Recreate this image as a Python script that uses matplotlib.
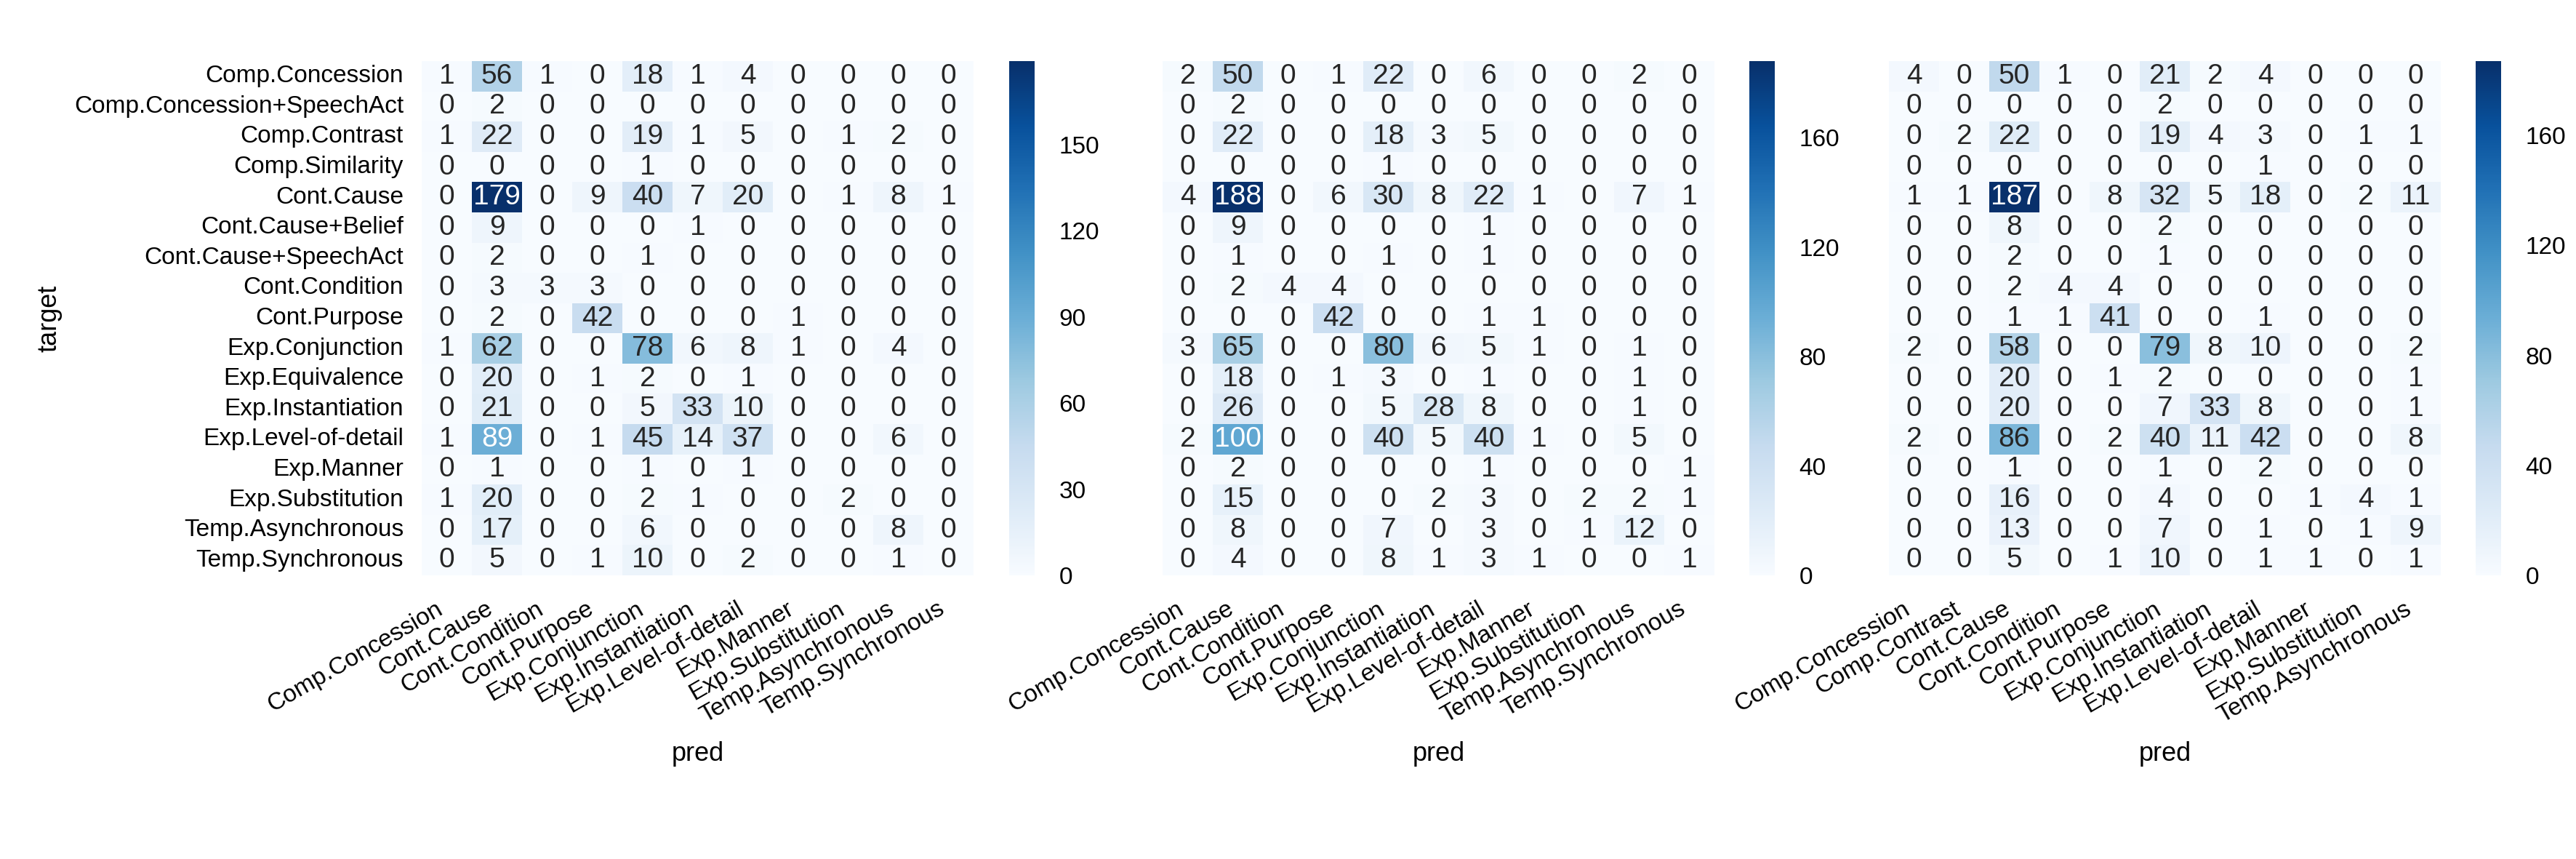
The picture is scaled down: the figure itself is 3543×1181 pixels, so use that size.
import numpy as np
import matplotlib
matplotlib.use("Agg")
import matplotlib.pyplot as plt
import matplotlib.ticker as mticker
import seaborn as sns

# labels
target_labels = [
    "Comp.Concession", "Comp.Concession+SpeechAct", "Comp.Contrast", "Comp.Similarity",
    "Cont.Cause", "Cont.Cause+Belief", "Cont.Cause+SpeechAct", "Cont.Condition",
    "Cont.Purpose", "Exp.Conjunction", "Exp.Equivalence", "Exp.Instantiation",
    "Exp.Level-of-detail", "Exp.Manner", "Exp.Substitution", "Temp.Asynchronous",
    "Temp.Synchronous",
]
pred_labels_a = [
    "Comp.Concession", "Cont.Cause", "Cont.Condition", "Cont.Purpose", "Exp.Conjunction",
    "Exp.Instantiation", "Exp.Level-of-detail", "Exp.Manner", "Exp.Substitution",
    "Temp.Asynchronous", "Temp.Synchronous",
]
pred_labels_b = pred_labels_a
pred_labels_c = [
    "Comp.Concession", "Comp.Contrast", "Cont.Cause", "Cont.Condition", "Cont.Purpose",
    "Exp.Conjunction", "Exp.Instantiation", "Exp.Level-of-detail", "Exp.Manner",
    "Exp.Substitution", "Temp.Asynchronous",
]

# confusion matrices (rows = target, cols = pred)
counts_a = [
    [1, 56, 1, 0, 18, 1, 4, 0, 0, 0, 0],
    [0, 2, 0, 0, 0, 0, 0, 0, 0, 0, 0],
    [1, 22, 0, 0, 19, 1, 5, 0, 1, 2, 0],
    [0, 0, 0, 0, 1, 0, 0, 0, 0, 0, 0],
    [0, 179, 0, 9, 40, 7, 20, 0, 1, 8, 1],
    [0, 9, 0, 0, 0, 1, 0, 0, 0, 0, 0],
    [0, 2, 0, 0, 1, 0, 0, 0, 0, 0, 0],
    [0, 3, 3, 3, 0, 0, 0, 0, 0, 0, 0],
    [0, 2, 0, 42, 0, 0, 0, 1, 0, 0, 0],
    [1, 62, 0, 0, 78, 6, 8, 1, 0, 4, 0],
    [0, 20, 0, 1, 2, 0, 1, 0, 0, 0, 0],
    [0, 21, 0, 0, 5, 33, 10, 0, 0, 0, 0],
    [1, 89, 0, 1, 45, 14, 37, 0, 0, 6, 0],
    [0, 1, 0, 0, 1, 0, 1, 0, 0, 0, 0],
    [1, 20, 0, 0, 2, 1, 0, 0, 2, 0, 0],
    [0, 17, 0, 0, 6, 0, 0, 0, 0, 8, 0],
    [0, 5, 0, 1, 10, 0, 2, 0, 0, 1, 0],
]
counts_b = [
    [2, 50, 0, 1, 22, 0, 6, 0, 0, 2, 0],
    [0, 2, 0, 0, 0, 0, 0, 0, 0, 0, 0],
    [0, 22, 0, 0, 18, 3, 5, 0, 0, 0, 0],
    [0, 0, 0, 0, 1, 0, 0, 0, 0, 0, 0],
    [4, 188, 0, 6, 30, 8, 22, 1, 0, 7, 1],
    [0, 9, 0, 0, 0, 0, 1, 0, 0, 0, 0],
    [0, 1, 0, 0, 1, 0, 1, 0, 0, 0, 0],
    [0, 2, 4, 4, 0, 0, 0, 0, 0, 0, 0],
    [0, 0, 0, 42, 0, 0, 1, 1, 0, 0, 0],
    [3, 65, 0, 0, 80, 6, 5, 1, 0, 1, 0],
    [0, 18, 0, 1, 3, 0, 1, 0, 0, 1, 0],
    [0, 26, 0, 0, 5, 28, 8, 0, 0, 1, 0],
    [2, 100, 0, 0, 40, 5, 40, 1, 0, 5, 0],
    [0, 2, 0, 0, 0, 0, 1, 0, 0, 0, 1],
    [0, 15, 0, 0, 0, 2, 3, 0, 2, 2, 1],
    [0, 8, 0, 0, 7, 0, 3, 0, 1, 12, 0],
    [0, 4, 0, 0, 8, 1, 3, 1, 0, 0, 1],
]
counts_c = [
    [4, 0, 50, 1, 0, 21, 2, 4, 0, 0, 0],
    [0, 0, 0, 0, 0, 2, 0, 0, 0, 0, 0],
    [0, 2, 22, 0, 0, 19, 4, 3, 0, 1, 1],
    [0, 0, 0, 0, 0, 0, 0, 1, 0, 0, 0],
    [1, 1, 187, 0, 8, 32, 5, 18, 0, 2, 11],
    [0, 0, 8, 0, 0, 2, 0, 0, 0, 0, 0],
    [0, 0, 2, 0, 0, 1, 0, 0, 0, 0, 0],
    [0, 0, 2, 4, 4, 0, 0, 0, 0, 0, 0],
    [0, 0, 1, 1, 41, 0, 0, 1, 0, 0, 0],
    [2, 0, 58, 0, 0, 79, 8, 10, 0, 0, 2],
    [0, 0, 20, 0, 1, 2, 0, 0, 0, 0, 1],
    [0, 0, 20, 0, 0, 7, 33, 8, 0, 0, 1],
    [2, 0, 86, 0, 2, 40, 11, 42, 0, 0, 8],
    [0, 0, 1, 0, 0, 1, 0, 2, 0, 0, 0],
    [0, 0, 16, 0, 0, 4, 0, 0, 1, 4, 1],
    [0, 0, 13, 0, 0, 7, 0, 1, 0, 1, 9],
    [0, 0, 5, 0, 1, 10, 0, 1, 1, 0, 1],
]

plt.rcParams['font.family'] = ['Liberation Sans', 'DejaVu Sans']

W, H = 3543, 1181
fig = plt.figure(figsize=(W / 100, H / 100), dpi=100)

# pixel boxes for heatmap and colorbar, rows span 84..791
y_top, y_bot = 84, 791
panels = [
    (counts_a, pred_labels_a, 580, 1388, True, 30),
    (counts_b, pred_labels_b, 1599, 2406, False, 40),
    (counts_c, pred_labels_c, 2598, 3405, False, 40),
]
hm_w, cb_w = 759, 35

for counts, xlabels, x0, cbx, first, step in panels:
    ax = fig.add_axes([x0 / W, 1 - y_bot / H, hm_w / W, (y_bot - y_top) / H])
    cax = fig.add_axes([cbx / W, 1 - y_bot / H, cb_w / W, (y_bot - y_top) / H])
    data = np.array(counts)
    sns.heatmap(data, ax=ax, cbar_ax=cax, cmap='Blues', annot=True, fmt='d',
                annot_kws={'fontsize': 28},
                xticklabels=xlabels,
                yticklabels=target_labels if first else False)
    ax.set_xticklabels(xlabels, rotation=30, ha='right', fontsize=24)
    ax.tick_params(axis='x', length=0, pad=22)
    ax.tick_params(axis='y', length=0, pad=18)
    if first:
        ax.set_yticklabels(target_labels, rotation=0, fontsize=24)
        ax.set_ylabel('target', fontsize=26, labelpad=12)
    ax.set_xlabel('pred', fontsize=26, labelpad=14)
    cax.yaxis.set_major_locator(mticker.MultipleLocator(step))
    cax.tick_params(length=0, pad=24, labelsize=24)
    for s in cax.spines.values():
        s.set_visible(False)

plt.savefig('out.png', dpi=100)
